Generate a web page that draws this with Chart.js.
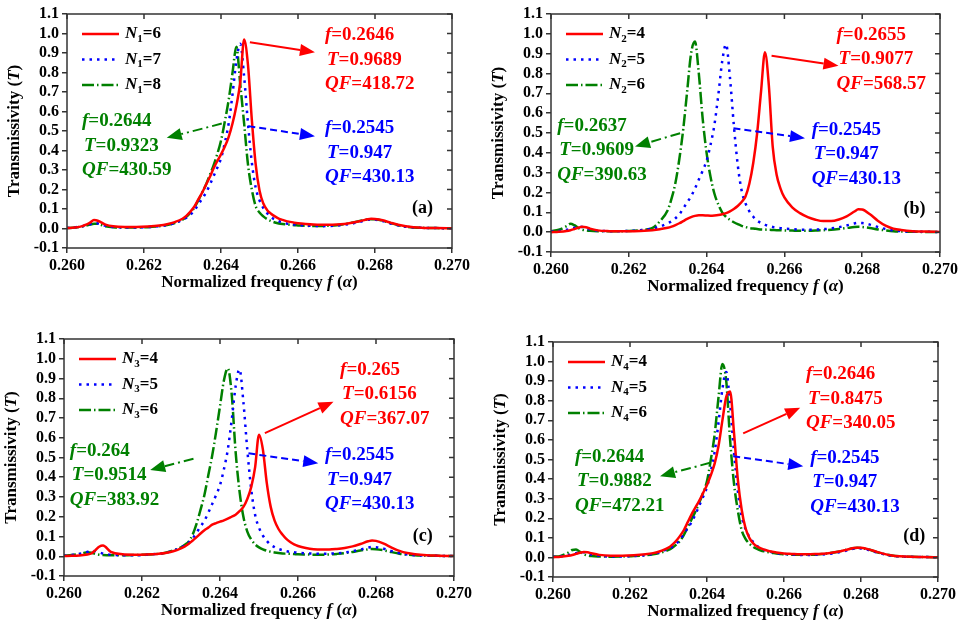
<!DOCTYPE html>
<html>
<head>
<meta charset="utf-8">
<script src="https://cdn.jsdelivr.net/npm/chart.js@4.4.1/dist/chart.umd.min.js"></script>
<style>
  body { margin: 0; background: #fff; }
  .wrap { position: relative; width: 964px; height: 626px; }
  canvas { position: absolute; }
</style>
</head>
<body>
<div class="wrap">
  <canvas id="pa" width="480" height="313" style="left:0;top:0"></canvas>
  <canvas id="pb" width="484" height="313" style="left:480px;top:0"></canvas>
  <canvas id="pc" width="480" height="313" style="left:0;top:313px"></canvas>
  <canvas id="pd" width="484" height="313" style="left:480px;top:313px"></canvas>
</div>
<script>
// normalized frequency samples (denser around the resonance)
var freq = [
  0.2600, 0.2602, 0.2604, 0.2605, 0.2606, 0.2607, 0.2608, 0.2609, 0.2610, 0.2612,
  0.2615, 0.2618, 0.2621, 0.2624, 0.2626, 0.2628,
  0.2630, 0.2631, 0.2632, 0.2633, 0.2634, 0.2635, 0.2636, 0.2637, 0.2638, 0.2639,
  0.2640, 0.2641, 0.2642, 0.2643, 0.2644, 0.2645, 0.2646, 0.2647, 0.2648, 0.2649,
  0.2650, 0.2651, 0.2652, 0.2653, 0.2654, 0.2655, 0.2656, 0.2657, 0.2658, 0.2659,
  0.2660,
  0.2662, 0.2664, 0.2666, 0.2668, 0.2670, 0.2672, 0.2674, 0.2676, 0.2678, 0.2679,
  0.2680, 0.2682, 0.2684, 0.2686, 0.2688, 0.2690, 0.2693, 0.2696, 0.2700
];

// base structure, same curve in every panel
var base = [
  0.003, 0.006, 0.012, 0.017, 0.022, 0.027, 0.026, 0.020, 0.014, 0.008, 0.005, 0.005, 0.007, 0.012, 0.018, 0.028,
  0.045, 0.055, 0.070, 0.090, 0.120, 0.150, 0.180, 0.220, 0.265, 0.310, 0.360, 0.440, 0.540, 0.690, 0.860, 0.947,
  0.780, 0.540, 0.340, 0.210, 0.145, 0.105, 0.078, 0.058, 0.046, 0.037, 0.031, 0.026, 0.022, 0.020, 0.018,
  0.015, 0.013, 0.012, 0.013, 0.015, 0.019, 0.025, 0.034, 0.044, 0.047, 0.046, 0.038, 0.026, 0.016, 0.009, 0.005, 0.003, 0.002, 0.001
];

// (a) N1 = 6 and N1 = 8
var redA = [
  0.002, 0.005, 0.012, 0.020, 0.030, 0.043, 0.040, 0.030, 0.020, 0.011, 0.008, 0.008, 0.010, 0.015, 0.022, 0.033,
  0.050, 0.065, 0.085, 0.110, 0.145, 0.180, 0.220, 0.260, 0.305, 0.345, 0.380, 0.420, 0.470, 0.540, 0.630, 0.750,
  0.9689, 0.840, 0.560, 0.330, 0.195, 0.128, 0.094, 0.076, 0.062, 0.051, 0.044, 0.038, 0.034, 0.030, 0.027,
  0.023, 0.020, 0.019, 0.019, 0.020, 0.023, 0.029, 0.037, 0.047, 0.050, 0.049, 0.042, 0.030, 0.019, 0.011, 0.006, 0.003, 0.002, 0.001
];
var greenA = [
  0.002, 0.005, 0.010, 0.015, 0.020, 0.025, 0.024, 0.018, 0.012, 0.007, 0.005, 0.005, 0.007, 0.012, 0.018, 0.028,
  0.045, 0.060, 0.080, 0.105, 0.140, 0.180, 0.220, 0.270, 0.320, 0.380, 0.450, 0.550, 0.660, 0.800, 0.9323, 0.740,
  0.540, 0.330, 0.200, 0.115, 0.082, 0.062, 0.048, 0.038, 0.031, 0.026, 0.023, 0.021, 0.019, 0.017, 0.016,
  0.014, 0.013, 0.013, 0.014, 0.017, 0.022, 0.030, 0.038, 0.046, 0.048, 0.047, 0.040, 0.028, 0.017, 0.009, 0.005, 0.003, 0.002, 0.001
];

// (b) N2 = 4 and N2 = 6
var redB = [
  0.000, 0.002, 0.006, 0.010, 0.016, 0.022, 0.027, 0.025, 0.018, 0.009, 0.005, 0.004, 0.005, 0.007, 0.010, 0.015,
  0.022, 0.028, 0.036, 0.045, 0.056, 0.067, 0.076, 0.082, 0.085, 0.085, 0.084, 0.083, 0.084, 0.086, 0.090, 0.096,
  0.105, 0.117, 0.132, 0.152, 0.180, 0.245, 0.350, 0.500, 0.710, 0.9077, 0.740, 0.430, 0.290, 0.220, 0.175,
  0.125, 0.096, 0.076, 0.063, 0.056, 0.056, 0.064, 0.080, 0.104, 0.115, 0.114, 0.090, 0.058, 0.033, 0.018, 0.011, 0.005, 0.003, 0.001
];
var greenB = [
  0.005, 0.012, 0.030, 0.042, 0.035, 0.022, 0.013, 0.009, 0.007, 0.005, 0.004, 0.005, 0.007, 0.012, 0.020, 0.055,
  0.110, 0.170, 0.250, 0.370, 0.520, 0.710, 0.900, 0.9609, 0.800, 0.570, 0.400, 0.280, 0.195, 0.140, 0.100, 0.077,
  0.062, 0.050, 0.040, 0.032, 0.026, 0.021, 0.018, 0.016, 0.014, 0.013, 0.012, 0.011, 0.010, 0.010, 0.009,
  0.008, 0.007, 0.007, 0.008, 0.010, 0.012, 0.016, 0.021, 0.026, 0.027, 0.026, 0.021, 0.014, 0.009, 0.005, 0.003, 0.002, 0.001, 0.001
];

// (c) N3 = 4 and N3 = 6
var redC = [
  0.001, 0.002, 0.004, 0.006, 0.009, 0.014, 0.030, 0.048, 0.054, 0.022, 0.010, 0.008, 0.009, 0.012, 0.016, 0.025,
  0.040, 0.050, 0.063, 0.080, 0.097, 0.115, 0.132, 0.145, 0.160, 0.168, 0.175, 0.182, 0.190, 0.200, 0.210, 0.228,
  0.250, 0.290, 0.350, 0.450, 0.6156, 0.540, 0.370, 0.250, 0.180, 0.138, 0.110, 0.088, 0.072, 0.060, 0.052,
  0.042, 0.036, 0.034, 0.034, 0.037, 0.042, 0.050, 0.062, 0.076, 0.080, 0.078, 0.064, 0.044, 0.027, 0.016, 0.010, 0.005, 0.003, 0.001
];
var greenC = [
  0.003, 0.006, 0.012, 0.016, 0.020, 0.018, 0.012, 0.008, 0.006, 0.005, 0.005, 0.006, 0.008, 0.012, 0.018, 0.030,
  0.045, 0.058, 0.075, 0.110, 0.165, 0.235, 0.310, 0.410, 0.510, 0.630, 0.760, 0.890, 0.9514, 0.820, 0.530, 0.330,
  0.200, 0.125, 0.085, 0.060, 0.045, 0.035, 0.028, 0.023, 0.019, 0.016, 0.014, 0.013, 0.012, 0.011, 0.010,
  0.009, 0.008, 0.008, 0.009, 0.012, 0.016, 0.022, 0.029, 0.035, 0.037, 0.036, 0.030, 0.021, 0.013, 0.008, 0.005, 0.003, 0.002, 0.001
];

// (d) N4 = 4 and N4 = 6
var redD = [
  0.001, 0.003, 0.008, 0.012, 0.018, 0.024, 0.028, 0.026, 0.021, 0.013, 0.009, 0.009, 0.011, 0.016, 0.022, 0.033,
  0.050, 0.065, 0.085, 0.110, 0.140, 0.180, 0.220, 0.255, 0.290, 0.330, 0.370, 0.420, 0.480, 0.570, 0.700, 0.820,
  0.8475, 0.640, 0.400, 0.245, 0.150, 0.100, 0.072, 0.056, 0.046, 0.039, 0.033, 0.029, 0.025, 0.022, 0.020,
  0.018, 0.016, 0.016, 0.017, 0.019, 0.023, 0.029, 0.038, 0.048, 0.050, 0.049, 0.041, 0.029, 0.018, 0.010, 0.006, 0.003, 0.002, 0.001
];
var greenD = [
  0.003, 0.008, 0.025, 0.038, 0.040, 0.028, 0.016, 0.010, 0.007, 0.005, 0.004, 0.005, 0.007, 0.011, 0.016, 0.025,
  0.038, 0.050, 0.065, 0.085, 0.115, 0.155, 0.195, 0.235, 0.280, 0.330, 0.390, 0.500, 0.630, 0.820, 0.9882, 0.900,
  0.600, 0.380, 0.240, 0.140, 0.095, 0.070, 0.054, 0.043, 0.035, 0.030, 0.026, 0.023, 0.020, 0.018, 0.016,
  0.014, 0.013, 0.013, 0.014, 0.017, 0.022, 0.029, 0.038, 0.047, 0.049, 0.048, 0.040, 0.028, 0.017, 0.010, 0.006, 0.003, 0.002, 0.001
];

// legend values of N (red, blue, green)
var countsA = ['6', '7', '8'];
var countsB = ['4', '5', '6'];
var countsC = ['4', '5', '6'];
var countsD = ['4', '5', '6'];

// peak notes: f, T, QF  (red, blue, green)
var notesA = [['0.2646', '0.9689', '418.72'], ['0.2545', '0.947', '430.13'], ['0.2644', '0.9323', '430.59']];
var notesB = [['0.2655', '0.9077', '568.57'], ['0.2545', '0.947', '430.13'], ['0.2637', '0.9609', '390.63']];
var notesC = [['0.265', '0.6156', '367.07'], ['0.2545', '0.947', '430.13'], ['0.264', '0.9514', '383.92']];
var notesD = [['0.2646', '0.8475', '340.05'], ['0.2545', '0.947', '430.13'], ['0.2644', '0.9882', '472.21']];

var FONT = '"Liberation Serif", "Times New Roman", serif';
Chart.defaults.font.family = FONT;
Chart.defaults.font.size = 16;
Chart.defaults.font.weight = 'bold';
Chart.defaults.color = '#000';

var styles = [
  { color: '#ff0000', width: 2.5, dash: [], arrow: [] },
  { color: '#0000ff', width: 2.5, dash: [2.5, 5], arrow: [7, 4] },
  { color: '#008000', width: 2.5, dash: [12, 3, 1.5, 3], arrow: [10, 4, 2, 4] }
];

var panels = [
  { id: 'pa', area: { left: 67, right: 452, top: 14, bottom: 248 }, tag: '(a)', tagAt: [0.26896, 0.103],
    sub: '1', counts: countsA, series: [redA, base, greenA], notes: notesA,
    at: [[0.2667, 0.99], [0.2667, 0.514], [0.26039, 0.55]],
    from: [[0.26475, 0.955], [0.26471, 0.525], [0.26402, 0.538]],
    to: [[0.26644, 0.904], [0.26644, 0.473], [0.26259, 0.465]] },
  { id: 'pb', area: { left: 71, right: 460, top: 14, bottom: 252 }, tag: '(b)', tagAt: [0.26906, 0.117],
    sub: '2', counts: countsB, series: [redB, base, greenB], notes: notesB,
    at: [[0.26734, 0.995], [0.2667, 0.516], [0.26016, 0.536]],
    from: [[0.26567, 0.889], [0.26469, 0.524], [0.26332, 0.499]],
    to: [[0.26739, 0.839], [0.26653, 0.474], [0.26216, 0.432]] },
  { id: 'pc', area: { left: 64, right: 454, top: 26, bottom: 263 }, tag: '(c)', tagAt: [0.26894, 0.102],
    sub: '3', counts: countsC, series: [redC, base, greenC], notes: notesC,
    at: [[0.26708, 0.943], [0.26669, 0.511], [0.26015, 0.533]],
    from: [[0.26515, 0.623], [0.26473, 0.521], [0.26332, 0.494]],
    to: [[0.26691, 0.782], [0.26652, 0.471], [0.26221, 0.437]] },
  { id: 'pd', area: { left: 73, right: 458, top: 29, bottom: 264 }, tag: '(d)', tagAt: [0.2691, 0.109],
    sub: '4', counts: countsD, series: [redD, base, greenD], notes: notesD,
    at: [[0.26657, 0.935], [0.26668, 0.509], [0.26057, 0.514]],
    from: [[0.26494, 0.633], [0.26468, 0.517], [0.26408, 0.483]],
    to: [[0.26642, 0.764], [0.2665, 0.466], [0.26278, 0.415]] }
];

function setFont(ctx, r, size) {
  ctx.font = (r.it ? 'italic ' : '') + 'bold ' + (r.sub ? Math.round(size * 0.62) : size) + 'px ' + FONT;
}
function runsWidth(ctx, runs, size) {
  var w = 0;
  runs.forEach(function(r) { setFont(ctx, r, size); w += ctx.measureText(r.t).width; });
  return w;
}
function drawRuns(ctx, runs, x, y, size) {
  ctx.textAlign = 'left';
  ctx.textBaseline = 'middle';
  runs.forEach(function(r) {
    setFont(ctx, r, size);
    ctx.fillText(r.t, x, r.sub ? y + size * 0.3 : y);
    x += ctx.measureText(r.t).width;
  });
}
function arrow(ctx, x0, y0, x1, y1, dash) {
  var ang = Math.atan2(y1 - y0, x1 - x0), L = 15, hw = 6;
  var bx = x1 - L * Math.cos(ang), by = y1 - L * Math.sin(ang);
  ctx.setLineDash(dash);
  ctx.beginPath(); ctx.moveTo(x0, y0); ctx.lineTo(bx, by); ctx.stroke();
  ctx.setLineDash([]);
  ctx.beginPath();
  ctx.moveTo(x1, y1);
  ctx.lineTo(bx + hw * Math.sin(ang), by - hw * Math.cos(ang));
  ctx.lineTo(bx - hw * Math.sin(ang), by + hw * Math.cos(ang));
  ctx.closePath(); ctx.fill();
}

// frame, top/right ticks, axis titles, legend, peak notes
var decor = {
  id: 'decor',
  afterDraw: function(chart, args, p) {
    var ctx = chart.ctx, a = chart.chartArea, xs = chart.scales.x, ys = chart.scales.y;
    ctx.save();
    ctx.strokeStyle = '#333';
    ctx.lineWidth = 1.5;
    ctx.strokeRect(a.left, a.top, a.right - a.left, a.bottom - a.top);
    ctx.beginPath();
    xs.ticks.forEach(function(t) {
      var px = xs.getPixelForValue(t.value);
      ctx.moveTo(px, a.top); ctx.lineTo(px, a.top + 5);
    });
    ys.ticks.forEach(function(t) {
      var py = ys.getPixelForValue(t.value);
      ctx.moveTo(a.right, py); ctx.lineTo(a.right - 5, py);
    });
    ctx.stroke();

    ctx.fillStyle = '#000';
    var xt = [{ t: 'Normalized frequency ' }, { t: 'f', it: true }, { t: ' (' }, { t: 'α', it: true }, { t: ')' }];
    drawRuns(ctx, xt, (a.left + a.right) / 2 - runsWidth(ctx, xt, 17) / 2, a.bottom + 35, 17);
    var yt = [{ t: 'Transmissivity (' }, { t: 'T', it: true }, { t: ')' }];
    ctx.save();
    ctx.translate(a.left - 52, (a.top + a.bottom) / 2);
    ctx.rotate(-Math.PI / 2);
    drawRuns(ctx, yt, -runsWidth(ctx, yt, 17) / 2, 0, 17);
    ctx.restore();

    // legend
    for (var i = 0; i < 3; i++) {
      var ly = a.top + 20 + i * 25.5, st = styles[i];
      ctx.strokeStyle = st.color;
      ctx.lineWidth = st.width;
      ctx.setLineDash(st.dash);
      ctx.beginPath(); ctx.moveTo(a.left + 15, ly); ctx.lineTo(a.left + 52, ly); ctx.stroke();
      ctx.setLineDash([]);
      ctx.fillStyle = '#000';
      drawRuns(ctx, [{ t: 'N', it: true }, { t: p.sub, sub: true }, { t: '=' + p.counts[i] }], a.left + 58, ly, 17);
    }

    // peak notes with arrows
    p.notes.forEach(function(n, k) {
      var st = styles[k];
      ctx.strokeStyle = st.color;
      ctx.fillStyle = st.color;
      ctx.lineWidth = 2;
      arrow(ctx, xs.getPixelForValue(p.from[k][0]), ys.getPixelForValue(p.from[k][1]),
            xs.getPixelForValue(p.to[k][0]), ys.getPixelForValue(p.to[k][1]), st.arrow);
      var tx = xs.getPixelForValue(p.at[k][0]), ty = ys.getPixelForValue(p.at[k][1]);
      drawRuns(ctx, [{ t: 'f', it: true }, { t: '=' + n[0] }], tx, ty, 19);
      drawRuns(ctx, [{ t: 'T', it: true }, { t: '=' + n[1] }], tx + 2, ty + 24.5, 19);
      drawRuns(ctx, [{ t: 'QF', it: true }, { t: '=' + n[2] }], tx, ty + 49, 19);
    });

    ctx.fillStyle = '#000';
    drawRuns(ctx, [{ t: p.tag }], xs.getPixelForValue(p.tagAt[0]), ys.getPixelForValue(p.tagAt[1]), 18);
    ctx.restore();
  }
};

function makeChart(p) {
  var cv = document.getElementById(p.id);
  var W = cv.width, H = cv.height;
  var tickFont = { family: FONT, size: 16, weight: 'bold' };
  new Chart(cv, {
    type: 'line',
    data: {
      datasets: p.series.map(function(s, i) {
        return {
          data: freq.map(function(f, k) { return { x: f, y: s[k] }; }),
          borderColor: styles[i].color,
          borderWidth: styles[i].width,
          borderDash: styles[i].dash,
          pointRadius: 0,
          fill: false,
          cubicInterpolationMode: 'monotone'
        };
      })
    },
    options: {
      responsive: false,
      animation: false,
      events: [],
      layout: { padding: { top: p.area.top, right: W - p.area.right, left: 0, bottom: 0 } },
      plugins: { legend: { display: false }, tooltip: { enabled: false }, decor: p },
      scales: {
        x: {
          type: 'linear', min: 0.26, max: 0.27,
          ticks: { stepSize: 0.002, autoSkip: false, maxRotation: 0, padding: 3, color: '#000', font: tickFont,
                   callback: function(v) { return v.toFixed(3); } },
          grid: { drawOnChartArea: false, tickLength: 5, color: '#333', lineWidth: 1.5 },
          border: { display: false },
          afterFit: function(s) { s.height = H - p.area.bottom; }
        },
        y: {
          min: -0.1, max: 1.1,
          ticks: { stepSize: 0.1, autoSkip: false, padding: 3, color: '#000', font: tickFont,
                   callback: function(v) { return (Math.abs(v) < 1e-9 ? 0 : v).toFixed(1); } },
          grid: { drawOnChartArea: false, tickLength: 5, color: '#333', lineWidth: 1.5 },
          border: { display: false },
          afterFit: function(s) { s.width = p.area.left; }
        }
      }
    },
    plugins: [decor]
  });
}

panels.forEach(makeChart);
</script>
</body>
</html>
